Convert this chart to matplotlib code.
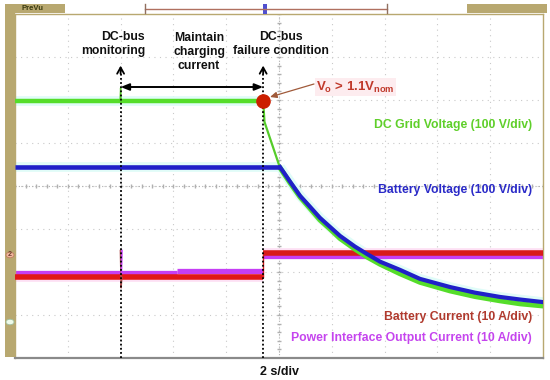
import matplotlib.pyplot as plt
from matplotlib.patches import Rectangle, Circle

# scope capture: x in seconds (2 s/div, 10 div), y in divisions (8 div)
t_monitor = 4.0
t_failure = 9.4

grid_pre_v = 5.98
grid_spike_t = [3.98, 4.0, 4.02]
grid_spike_v = [5.98, 6.28, 5.98]

decay_t = [10.04, 10.42, 10.80, 11.17, 11.55, 11.93, 12.31, 12.88, 13.33,
           13.83, 14.58, 15.34, 16.48, 17.42, 18.37, 19.13, 20.0]
grid_decay_v = [4.42, 4.07, 3.74, 3.48, 3.21, 3.00, 2.78, 2.53, 2.35,
                2.18, 1.96, 1.76, 1.56, 1.43, 1.33, 1.26, 1.21]
batt_decay_v = [4.44, 4.10, 3.77, 3.52, 3.26, 3.05, 2.84, 2.59, 2.42,
                2.24, 2.05, 1.84, 1.65, 1.52, 1.42, 1.36, 1.30]
grid_drop_t = [9.4, 9.45, 10.04]
grid_drop_v = [5.98, 5.49, 4.42]
batt_pre_v = 4.44

ibat_pre, ibat_post = 1.88, 2.44
iout_pre, iout_mid, iout_post = 1.97, 2.02, 2.37
t_iout_step = 6.14
glitch_t = [3.99, 4.02, 4.05]
glitch_v = [2.50, 1.63, 1.88]

labels = ["DC Grid Voltage (100 V/div)", "Battery Voltage (100 V/div)",
          "Battery Current (10 A/div)", "Power Interface Output Current (10 A/div)"]
label_colors = ["#5fcf2a", "#2a2ac8", "#b03a2e", "#c545ee"]
label_y_px = [125, 190, 317, 338]

W, H = 550, 380
fig = plt.figure(figsize=(W / 100, H / 100), dpi=100)
ax = fig.add_axes([15 / W, 22 / H, 528 / W, 344 / H])
ax.set_xlim(0, 20)
ax.set_ylim(0, 8)
ax.set_xticks([])
ax.set_yticks([])


def d(xp, yp):
    # pixel position of the picture -> data coords
    return (xp - 15) / 52.8 * 2, (358 - yp) / 43.0


def fx(xp):
    return xp / W


def fy(yp):
    return 1 - yp / H


olive = "#b8a870"
for s in ["left", "top", "right"]:
    ax.spines[s].set_color(olive)
    ax.spines[s].set_linewidth(1.0)
ax.spines["bottom"].set_color("#8a8a8a")
ax.spines["bottom"].set_linewidth(1.6)

# graticule
for i in range(1, 10):
    ax.axvline(i * 2, color="#c9c9c9", lw=0.8, ls=(0, (1, 4)), zorder=0)
for j in range(1, 8):
    ax.axhline(j, color="#c9c9c9", lw=0.8, ls=(0, (1, 4)), zorder=0)
ax.axvline(10, color="#b0b0b0", lw=0.8, ls=(0, (1, 2)), zorder=0)
ax.axhline(4, color="#b0b0b0", lw=0.8, ls=(0, (1, 2)), zorder=0)
mt = [k * 0.4 for k in range(51)]
ax.plot(mt, [4] * len(mt), ls="none", marker="|", ms=3, color="#b0b0b0", zorder=0)
my = [k * 0.2 for k in range(41)]
ax.plot([10] * len(my), my, ls="none", marker="_", ms=3, color="#b0b0b0", zorder=0)

# halos
halo_kw = dict(lw=7, solid_capstyle="butt", zorder=1)
ax.plot([0, t_failure], [grid_pre_v, grid_pre_v], color="#e0fcf8", **halo_kw)
ax.plot([0, 10.04], [batt_pre_v, batt_pre_v], color="#e0fcf8", **halo_kw)
ax.plot(decay_t, batt_decay_v, color="#e0fcf8", **halo_kw)
ax.plot([0, t_failure], [ibat_pre, ibat_pre], color="#fde0f4", **halo_kw)
ax.plot([t_failure, 20], [ibat_post, ibat_post], color="#fde0f4", **halo_kw)

# traces
seg = dict(solid_capstyle="butt")
ax.plot([0, t_iout_step], [iout_pre, iout_pre], color="#c53ef5", lw=3.8, zorder=2, **seg)
ax.plot([t_iout_step, t_failure], [iout_mid, iout_mid], color="#c53ef5", lw=3.8, zorder=2, **seg)
ax.plot([t_failure, 20], [iout_post, iout_post], color="#c53ef5", lw=3.8, zorder=2, **seg)
ax.plot([0, t_failure], [ibat_pre, ibat_pre], color="#e01818", lw=4.0, zorder=3, **seg)
ax.plot([t_failure, 20], [ibat_post, ibat_post], color="#d81a1a", lw=4.0, zorder=3, **seg)
ax.plot([t_failure, t_failure], [ibat_pre, ibat_post], color="#d81a1a", lw=1.0, zorder=3)
ax.plot(glitch_t, glitch_v, color="#b05050", lw=1.0, zorder=3)
ax.plot([4.03, 4.05], [1.98, 2.5], color="#c53ef5", lw=1.2, zorder=3)
ax.plot([0, t_failure], [grid_pre_v, grid_pre_v], color="#55dd2a", lw=3.2, zorder=3, **seg)
ax.plot(grid_spike_t, grid_spike_v, color="#55cc2a", lw=1.0, zorder=3)
ax.plot(grid_drop_t, grid_drop_v, color="#55cc2a", lw=1.6, zorder=3)
ax.plot(decay_t, grid_decay_v, color="#55dd2a", lw=3.6, zorder=3)
ax.plot([0, 10.04], [batt_pre_v, batt_pre_v], color="#2020c8", lw=3.3, zorder=4, **seg)
ax.plot(decay_t, batt_decay_v, color="#2020c8", lw=3.0, zorder=4)

# event markers
top_y = d(0, 68)[1]
for tv in [t_monitor, t_failure]:
    ax.plot([tv, tv], [0, top_y], color="black", lw=1.3, ls=(0, (1, 1.3)), zorder=5)
    ax.annotate("", xy=(tv, top_y + 0.12), xytext=(tv, top_y - 0.2),
                arrowprops=dict(arrowstyle="->,head_length=0.45,head_width=0.25",
                                lw=1.3, color="black"), zorder=5)
arr_y = d(0, 87)[1]
ax.annotate("", xy=(t_monitor, arr_y), xytext=(t_failure, arr_y),
            arrowprops=dict(arrowstyle="<|-|>,head_length=0.5,head_width=0.2",
                            lw=1.4, color="black", shrinkA=0, shrinkB=0), zorder=5)
ax.plot([t_failure], [grid_pre_v], "o", color="#cc1f00", ms=9.5, zorder=6)

# V_o annotation
ax.annotate("", xy=d(270, 97), xytext=d(314, 84),
            arrowprops=dict(arrowstyle="-|>,head_length=0.4,head_width=0.18",
                            lw=0.9, color="#a05a3a", shrinkA=0, shrinkB=0), zorder=6)
bold = dict(fontfamily="Liberation Sans", fontweight="bold")
ax.text(*d(316, 87), r"V$_\mathregular{o}$ > 1.1V$_\mathregular{nom}$", color="#c0392b",
        fontsize=9.5, ha="left", va="center", zorder=6,
        bbox=dict(boxstyle="square,pad=0.1", fc="#fdecef", ec="none"), **bold)

# headings
ax.text(*d(145, 44), "DC-bus\nmonitoring", ha="right", va="center", fontsize=8.8,
        linespacing=1.2, color="#111111", **bold)
ax.text(*d(199, 52), "Maintain\ncharging\ncurrent", ha="center", va="center",
        fontsize=8.8, linespacing=1.2, color="#111111", **bold)
ax.text(*d(281, 44), "DC-bus\nfailure condition", ha="center", va="center",
        fontsize=8.8, linespacing=1.2, color="#111111", **bold)

for lab, col, yp in zip(labels, label_colors, label_y_px):
    ax.text(*d(532, yp), lab, color=col, ha="right", va="center", fontsize=8.8, **bold)

fig.text(fx(280), fy(372), "2 s/div", ha="center", va="center", fontsize=9,
         color="#111111", **bold)

# scope frame decorations
fig.add_artist(Rectangle((fx(5), fy(357)), 10 / W, 353 / H, fc=olive, ec="none"))
fig.add_artist(Rectangle((fx(5), fy(13)), 60 / W, 9 / H, fc=olive, ec="none"))
fig.add_artist(Rectangle((fx(467), fy(13)), 80 / W, 9 / H, fc=olive, ec="none"))
fig.text(fx(22), fy(8.5), "PreVu", fontsize=5.5, color="#3a3a10", va="center",
         ha="left", **bold)
fig.add_artist(plt.Line2D([fx(145), fx(387)], [fy(9), fy(9)], color="#b07060", lw=1.0))
for xp in [145, 387]:
    fig.add_artist(plt.Line2D([fx(xp), fx(xp)], [fy(4), fy(13)], color="#907060", lw=1.0))
fig.add_artist(Rectangle((fx(263), fy(14)), 4 / W, 10 / H, fc="#5050d0", ec="none"))
fig.add_artist(Circle((fx(10), fy(255)), 4 / W, fc="#f2b8a0", ec="#c08060", lw=0.6))
fig.text(fx(10), fy(255), "2", fontsize=5, ha="center", va="center", color="#704030", **bold)
fig.add_artist(Circle((fx(10), fy(322)), 4 / W, fc="#eefaea", ec="#a0c0a0", lw=0.6))

fig.savefig("out.png", dpi=100, facecolor="white")
